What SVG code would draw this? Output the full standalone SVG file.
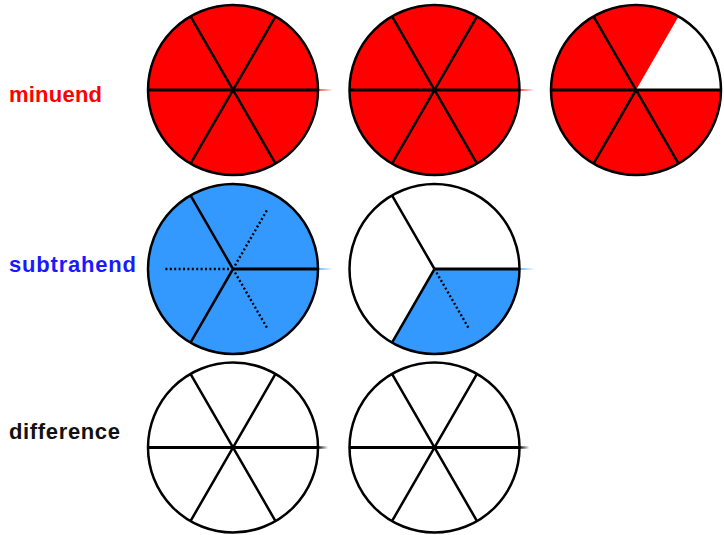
<svg xmlns="http://www.w3.org/2000/svg" width="724" height="535" viewBox="0 0 724 535">
<style>
.lbl{font-family:"Liberation Sans",Arial,sans-serif;font-weight:bold;font-size:22px}
.rim{fill:none;stroke:#000;stroke-width:2.5}
.sp{stroke:#000;stroke-width:2.5;fill:none;stroke-linecap:butt}
.hz{stroke:#000;stroke-width:3;fill:none}
.dot{stroke:#000;stroke-width:2.4;stroke-dasharray:2 2.4;fill:none}
.red{fill:#ff0000}
.blue{fill:#3399ff}
.white{fill:#fff}
</style>
<defs>
<linearGradient id="gr" gradientUnits="userSpaceOnUse" x1="85" y1="0" x2="100" y2="0"><stop offset="0" stop-color="#ff0000" stop-opacity="0.7"/><stop offset="1" stop-color="#ff0000" stop-opacity="0"/></linearGradient>
<linearGradient id="gb" gradientUnits="userSpaceOnUse" x1="85" y1="0" x2="100" y2="0"><stop offset="0" stop-color="#3399ff" stop-opacity="0.7"/><stop offset="1" stop-color="#3399ff" stop-opacity="0"/></linearGradient>
<linearGradient id="gk" gradientUnits="userSpaceOnUse" x1="85" y1="0" x2="95" y2="0"><stop offset="0" stop-color="#000" stop-opacity="1"/><stop offset="1" stop-color="#000" stop-opacity="0"/></linearGradient>
</defs>
<rect width="724" height="535" fill="#fff"/>

<text id="label-minuend" class="lbl" x="9" y="102" fill="#ff0000" textLength="93" lengthAdjust="spacing">minuend</text>
<text id="label-subtrahend" class="lbl" x="9" y="272" fill="#1a1aff" textLength="127" lengthAdjust="spacing">subtrahend</text>
<text id="label-difference" class="lbl" x="9" y="439" fill="#111" textLength="111" lengthAdjust="spacing">difference</text>

<g id="minuend-1" transform="translate(233,90)">
<circle r="85" class="red"/>
<line x1="85" y1="0" x2="100" y2="0" stroke="url(#gr)" stroke-width="2"/>
<path class="sp" d="M-42.5,-73.6L42.5,73.6M42.5,-73.6L-42.5,73.6"/>
<line class="hz" x1="-85" y1="0" x2="85" y2="0"/>
<circle r="85" class="rim"/>
</g>
<g id="minuend-2" transform="translate(434.5,90)">
<circle r="85" class="red"/>
<line x1="85" y1="0" x2="100" y2="0" stroke="url(#gr)" stroke-width="2"/>
<path class="sp" d="M-42.5,-73.6L42.5,73.6M42.5,-73.6L-42.5,73.6"/>
<line class="hz" x1="-85" y1="0" x2="85" y2="0"/>
<circle r="85" class="rim"/>
</g>
<g id="minuend-3" transform="translate(636,90)">
<circle r="85" class="white"/>
<path class="red" d="M0,0L85,0A85,85 0 1,1 42.5,-73.6Z"/>
<path class="sp" d="M-42.5,-73.6L42.5,73.6M0,0L-42.5,73.6"/>
<line class="hz" x1="-85" y1="0" x2="85" y2="0"/>
<circle r="85" class="rim"/>
</g>

<g id="subtrahend-1" transform="translate(233,269)">
<circle r="85" class="blue"/>
<line x1="85" y1="0" x2="100" y2="0" stroke="url(#gb)" stroke-width="2"/>
<path class="dot" d="M2,-3.5L34,-58.9M-4,0L-68,0M2,3.5L34,58.9"/>
<path class="sp" d="M0,0L-42.5,-73.6M0,0L-42.5,73.6"/>
<line class="hz" x1="0" y1="0" x2="85" y2="0" stroke-width="3.5"/>
<circle r="85" class="rim"/>
</g>
<g id="subtrahend-2" transform="translate(434.5,269)">
<circle r="85" class="white"/>
<path class="blue" d="M0,0L85,0A85,85 0 0,1 -42.5,73.6Z"/>
<line x1="85" y1="0" x2="100" y2="0" stroke="url(#gb)" stroke-width="2"/>
<path class="dot" d="M2,3.5L34,58.9"/>
<path class="sp" d="M0,0L-42.5,-73.6M0,0L-42.5,73.6"/>
<line class="hz" x1="0" y1="0" x2="85" y2="0" stroke-width="3.5"/>
<circle r="85" class="rim"/>
</g>

<g id="difference-1" transform="translate(233,447.5)">
<circle r="85" class="white"/>
<line x1="85" y1="0" x2="95" y2="0" stroke="url(#gk)" stroke-width="2.5"/>
<path class="sp" d="M-42.5,-73.6L42.5,73.6M42.5,-73.6L-42.5,73.6"/>
<line class="hz" x1="-85" y1="0" x2="85" y2="0"/>
<circle r="85" class="rim"/>
</g>
<g id="difference-2" transform="translate(434.5,447.5)">
<circle r="85" class="white"/>
<line x1="85" y1="0" x2="95" y2="0" stroke="url(#gk)" stroke-width="2.5"/>
<path class="sp" d="M-42.5,-73.6L42.5,73.6M42.5,-73.6L-42.5,73.6"/>
<line class="hz" x1="-85" y1="0" x2="85" y2="0"/>
<circle r="85" class="rim"/>
</g>
</svg>
